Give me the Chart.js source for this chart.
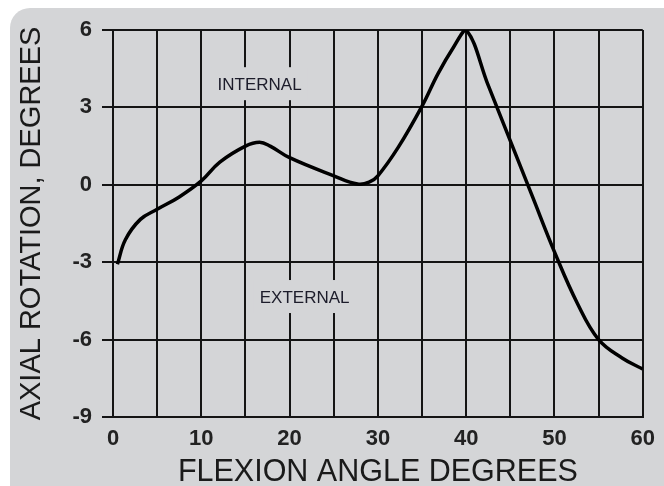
<!DOCTYPE html>
<html>
<head>
<meta charset="utf-8">
<script src="https://cdn.jsdelivr.net/npm/chart.js@4.4.1/dist/chart.umd.min.js"></script>
<style>
  body { margin: 0; background: #fff; }
</style>
</head>
<body>
<canvas id="rotChart" width="664" height="486"></canvas>
<script>
// flexion angle (deg) and axial rotation (deg)
var flexion = [0.5, 1.4, 3.1, 5, 7.5, 10, 12.1, 15, 16.6, 17.8, 20, 25, 27.7, 29, 30, 32.3, 35, 36.8, 38.6, 40, 42.5, 45, 47.5, 50, 52.6, 55, 57.7, 60];
var rotation = [-3.08, -2.13, -1.34, -0.95, -0.47, 0.15, 0.88, 1.5, 1.65, 1.5, 1.05, 0.35, 0.03, 0.1, 0.35, 1.45, 3.05, 4.3, 5.35, 6.0, 3.85, 1.7, -0.45, -2.6, -4.6, -6.0, -6.72, -7.14];
var xTicks = [0, 10, 20, 30, 40, 50, 60];
var yTicks = [-9, -6, -3, 0, 3, 6];
var notes = [
    { text: "INTERNAL", x: 16.6, y: 3.9 },
    { text: "EXTERNAL", x: 21.7, y: -4.35 }
];

var cardColor = "#d4d5d7";
var gridColor = "#141414";

var points = flexion.map(function (x, i) { return { x: x, y: rotation[i] }; });

// grey rounded card behind the chart
var cardPlugin = {
    id: "card",
    beforeDraw: function (chart) {
        var ctx = chart.ctx;
        ctx.save();
        ctx.fillStyle = "#ffffff";
        ctx.fillRect(0, 0, chart.width, chart.height);
        ctx.fillStyle = cardColor;
        ctx.beginPath();
        ctx.roundRect(10, 8, chart.width + 20, chart.height + 30, 20);
        ctx.fill();
        ctx.restore();
    }
};

// INTERNAL / EXTERNAL labels, with the grid cut out behind them
var notePlugin = {
    id: "notes",
    beforeDatasetsDraw: function (chart) {
        var ctx = chart.ctx;
        var xs = chart.scales.x, ys = chart.scales.y;
        ctx.save();
        ctx.font = "17px 'Liberation Sans', Arial, sans-serif";
        ctx.textAlign = "center";
        ctx.textBaseline = "middle";
        notes.forEach(function (n) {
            var px = xs.getPixelForValue(n.x);
            var py = ys.getPixelForValue(n.y);
            var w = ctx.measureText(n.text).width;
            ctx.fillStyle = cardColor;
            ctx.fillRect(px - w / 2 - 6, py - 17, w + 12, 33);
            ctx.fillStyle = "#1c1c2a";
            ctx.fillText(n.text, px, py + 1);
        });
        ctx.restore();
    }
};

new Chart("rotChart", {
    type: "line",
    data: {
        datasets: [{
            data: points,
            borderColor: "#000000",
            borderWidth: 3.5,
            pointRadius: 0,
            tension: 0.4,
            fill: false
        }]
    },
    options: {
        responsive: false,
        animation: false,
        layout: { padding: { top: 30, right: 20, left: 0, bottom: 0 } },
        plugins: {
            legend: { display: false },
            tooltip: { enabled: false }
        },
        scales: {
            x: {
                type: "linear",
                min: 0,
                max: 60,
                afterFit: function (s) { s.height = 69; },
                ticks: {
                    stepSize: 5,
                    autoSkip: false,
                    maxRotation: 0,
                    padding: 9,
                    color: "#222222",
                    font: { family: "'Liberation Sans', Arial, sans-serif", size: 22, weight: "bold" },
                    callback: function (v) { return xTicks.indexOf(v) >= 0 ? String(v) : ""; }
                },
                grid: { color: gridColor, lineWidth: 2, drawTicks: false },
                border: { color: gridColor, width: 2 },
                title: {
                    display: true,
                    text: "FLEXION ANGLE DEGREES",
                    color: "#1a1a1a",
                    font: { family: "'Liberation Sans', Arial, sans-serif", size: 30.5, lineHeight: 0.8 },
                    padding: { top: 0, bottom: 1 }
                }
            },
            y: {
                min: -9,
                max: 6,
                afterFit: function (s) { s.width = 113; },
                afterBuildTicks: function (s) { s.ticks = yTicks.map(function (v) { return { value: v }; }); },
                ticks: {
                    padding: 10,
                    color: "#222222",
                    font: { family: "'Liberation Sans', Arial, sans-serif", size: 22, weight: "bold" }
                },
                grid: { color: gridColor, lineWidth: 2, tickLength: 11 },
                border: { color: gridColor, width: 2 },
                title: {
                    display: true,
                    text: "AXIAL ROTATION, DEGREES",
                    color: "#1a1a1a",
                    font: { family: "'Liberation Sans', Arial, sans-serif", size: 29, lineHeight: 0.83 },
                    padding: { top: 20, bottom: 0 }
                }
            }
        }
    },
    plugins: [cardPlugin, notePlugin]
});
</script>
</body>
</html>
